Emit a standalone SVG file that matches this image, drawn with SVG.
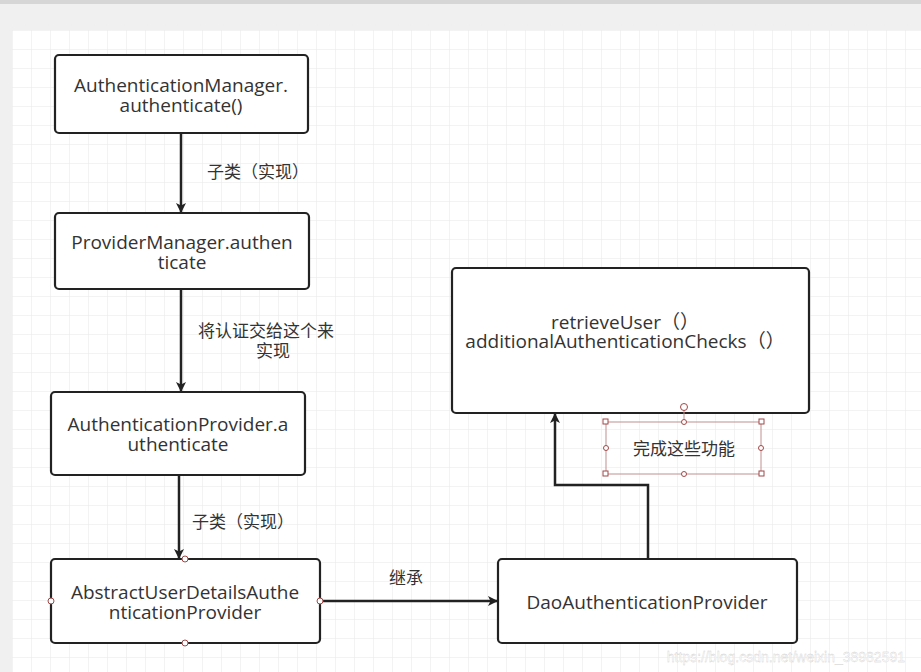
<svg xmlns="http://www.w3.org/2000/svg" width="921" height="672" viewBox="0 0 921 672">
<defs>
<pattern id="grid" x="12" y="30" width="19" height="19" patternUnits="userSpaceOnUse">
<path d="M0 0H19M0 0V19" fill="none" stroke="#e8e8e8" stroke-width="1"/>
</pattern>
<marker id="arr" markerWidth="10" markerHeight="10" refX="9" refY="5" orient="auto" markerUnits="userSpaceOnUse">
<path d="M0 0L10 5L0 10L2.5 5Z" fill="#222"/>
</marker>
<style>
.n{fill:#fff;stroke:#222;stroke-width:2.2}
.t{font-family:"Open Sans","Noto Sans CJK SC",sans-serif;font-size:19px;fill:#333;text-anchor:middle}
.l{font-family:"Open Sans","Noto Sans CJK SC",sans-serif;font-size:17px;fill:#333}
.c{fill:none;stroke:#222;stroke-width:2.5;marker-end:url(#arr)}
.h{fill:#fff;stroke:#a04848;stroke-width:1}
</style>
</defs>
<rect width="921" height="672" fill="#f0f0f0"/>
<rect width="921" height="4" fill="#d6d6d6"/>
<rect x="12" y="30" width="909" height="642" fill="#fff"/>
<rect x="12" y="30" width="909" height="642" fill="url(#grid)"/>
<g id="connectors">
<path class="c" d="M181 133V212"/>
<path class="c" d="M181 289V391"/>
<path class="c" d="M179 475V558"/>
<path class="c" d="M320 601H497"/>
<path class="c" d="M648 559V485H555V414"/>
<text class="l" x="207" y="178">子类（实现）</text>
<text class="l" x="198" y="337">将认证交给这个来</text>
<text class="l" x="256" y="357">实现</text>
<text class="l" x="192" y="528">子类（实现）</text>
<text class="l" x="389" y="584">继承</text>
</g>
<g id="n1"><rect class="n" x="55" y="55" width="253" height="78" rx="4"/><text class="t" x="181" y="92">AuthenticationManager.</text><text class="t" x="181" y="112">authenticate()</text></g>
<g id="n2"><rect class="n" x="55" y="213" width="254" height="76" rx="4"/><text class="t" x="182" y="249">ProviderManager.authen</text><text class="t" x="182" y="269">ticate</text></g>
<g id="n3"><rect class="n" x="51" y="392" width="254" height="83" rx="4"/><text class="t" x="178" y="431">AuthenticationProvider.a</text><text class="t" x="178" y="451">uthenticate</text></g>
<g id="n4"><rect class="n" x="51" y="559" width="269" height="84" rx="4"/><text class="t" x="185" y="599">AbstractUserDetailsAuthe</text><text class="t" x="185" y="619">nticationProvider</text>
<circle class="h" cx="185" cy="559" r="3"/><circle class="h" cx="185" cy="643" r="3"/><circle class="h" cx="51" cy="601" r="3"/><circle class="h" cx="320" cy="601" r="3"/></g>
<g id="n5"><rect class="n" x="498" y="559" width="299" height="84" rx="4"/><text class="t" x="647" y="609">DaoAuthenticationProvider</text></g>
<g id="n6"><rect class="n" x="452" y="268" width="357" height="145" rx="4"/><text class="t" x="625" y="329">retrieveUser（）</text><text class="t" x="625" y="348">additionalAuthenticationChecks（）</text></g>
<g id="n7"><rect x="606" y="422" width="155" height="52" fill="none" stroke="#c09090" stroke-width="1"/>
<text class="l" x="684" y="455" text-anchor="middle">完成这些功能</text>
<line x1="684" y1="410" x2="684" y2="422" stroke="#c09090"/>
<circle class="h" cx="684" cy="407" r="3.5"/>
<rect class="h" x="603" y="419" width="5" height="5"/><rect class="h" x="759" y="419" width="5" height="5"/><rect class="h" x="603" y="471" width="5" height="5"/><rect class="h" x="759" y="471" width="5" height="5"/>
<circle class="h" cx="684" cy="422" r="2.5"/><circle class="h" cx="684" cy="474" r="2.5"/><circle class="h" cx="606" cy="448" r="2.5"/><circle class="h" cx="761" cy="448" r="2.5"/></g>
<text x="905" y="662" font-family="Liberation Sans,sans-serif" font-size="14" fill="#fff" stroke="#ccc" stroke-width="0.3" text-anchor="end">https://blog.csdn.net/weixin_38982591</text>
</svg>
